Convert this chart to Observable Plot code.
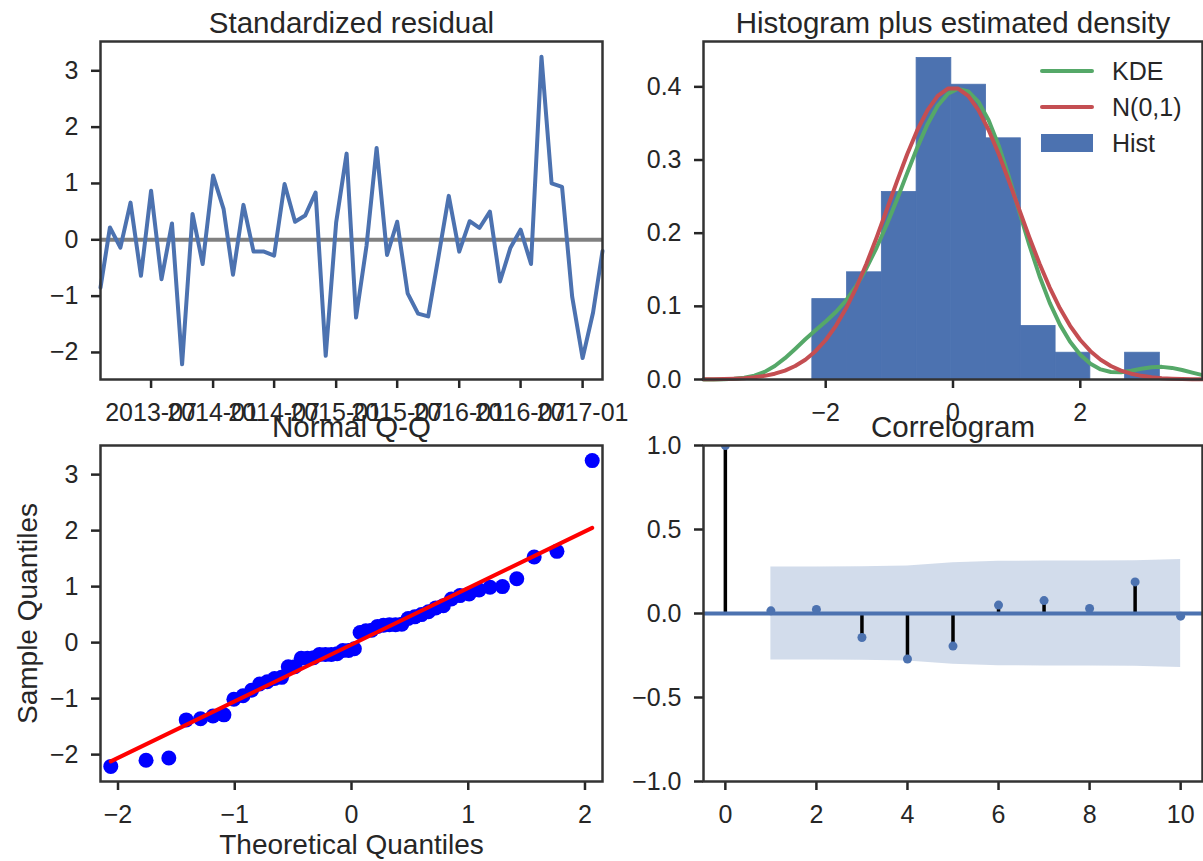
<!DOCTYPE html>
<html>
<head>
<meta charset="utf-8">
<script src="https://cdn.jsdelivr.net/npm/d3@7"></script>
<script src="https://cdn.jsdelivr.net/npm/@observablehq/plot@0.6"></script>
<style>
html, body { margin: 0; padding: 0; background: #fff; overflow: hidden; }
#root { position: relative; width: 1203px; height: 861px; background: #fff;
  font-family: "Liberation Sans", Arial, sans-serif; color: #262626; }
.panel { position: absolute; }
.panel svg { max-width: none !important; }
</style>
</head>
<body>
<div id="root"></div>
<script>
// ---------------- data ----------------
const firstMonth = "2013-02";
const lastMonth = "2017-03";
const residuals = [
  -0.85, 0.22, -0.14, 0.66, -0.64, 0.87, -0.70, 0.29, -2.21, 0.46,
  -0.43, 1.14, 0.55, -0.62, 0.62, -0.21, -0.21, -0.28, 0.99, 0.32,
  0.43, 0.84, -2.06, 0.31, 1.53, -1.38, -0.11, 1.63, -0.27, 0.32,
  -0.95, -1.31, -1.36, -0.28, 0.78, -0.21, 0.33, 0.21, 0.50, -0.74,
  -0.14, 0.18, -0.43, 3.25, 1.00, 0.94, -1.01, -2.10, -1.29, -0.20
];
const dateTicks = ["2013-07", "2014-01", "2014-07", "2015-01", "2015-07", "2016-01", "2016-07", "2017-01"];
const residTicks = [-2, -1, 0, 1, 2, 3];
const densityTicks = [0, 0.1, 0.2, 0.3, 0.4];
const histXTicks = [-2, 0, 2];
const qqXTicks = [-2, -1, 0, 1, 2];
const qqYTicks = [-2, -1, 0, 1, 2, 3];
const acfLags = [0, 1, 2, 3, 4, 5, 6, 7, 8, 9, 10];
const acfValues = [1.0, 0.016, 0.024, -0.143, -0.271, -0.194, 0.05, 0.077, 0.03, 0.188, -0.016];
const confLags = [1, 2, 3, 4, 5, 6, 7, 8, 9, 10];
const confHalfWidth = [0.277, 0.277, 0.278, 0.282, 0.302, 0.311, 0.312, 0.313, 0.314, 0.321];
const acfYTicks = [-1, -0.5, 0, 0.5, 1];
const acfXTicks = [0, 2, 4, 6, 8, 10];
const titles = ["Standardized residual", "Histogram plus estimated density", "Normal Q-Q", "Correlogram"];
const qqLabels = ["Theoretical Quantiles", "Sample Quantiles"];
const legendNames = ["KDE", "N(0,1)", "Hist"];
const colors = { blue: "#4C72B0", green: "#55A868", red: "#C44E52", qqDot: "#0000FF", qqLine: "#FF0000", zero: "#808080" };

// ---------------- helpers ----------------
const FONT = '"Liberation Sans", Arial, sans-serif';
const INK = "#262626";
const SPINE = "#333333";
const minus = (s) => s.replace("-", "\u2212");
const fmt = (p) => (d) => minus(d.toFixed(p));
const parseMonth = d3.utcParse("%Y-%m");

const erf = (x) => {
  const t = 1 / (1 + 0.3275911 * Math.abs(x));
  const y = 1 - (((((1.061405429 * t - 1.453152027) * t) + 1.421413741) * t - 0.284496736) * t + 0.254829592) * t * Math.exp(-x * x);
  return x >= 0 ? y : -y;
};
const normCdf = (x) => 0.5 * (1 + erf(x / Math.SQRT2));
const normPpf = (p) => { let lo = -8, hi = 8; for (let k = 0; k < 60; k++) { const m = (lo + hi) / 2; if (normCdf(m) < p) lo = m; else hi = m; } return (lo + hi) / 2; };
const normPdf = (x) => Math.exp(-x * x / 2) / Math.sqrt(2 * Math.PI);

const n = residuals.length;
const months = d3.utcMonth.range(parseMonth(firstMonth), d3.utcMonth.offset(parseMonth(lastMonth), 1));
const series = residuals.map((v, i) => ({ date: months[i], v }));

// histogram (10 equal bins, density)
const lo = d3.min(residuals), hi = d3.max(residuals), w = (hi - lo) / 10;
const counts = new Array(10).fill(0);
residuals.forEach(v => { counts[Math.min(9, Math.floor((v - lo) / w))]++; });
const histBins = counts.map((c, i) => ({ x1: lo + i * w, x2: lo + (i + 1) * w, density: c / (n * w) })).filter(b => b.density > 0);

// gaussian KDE (Scott) and N(0,1) evaluated on 50 points over (-3.92, 3.92)
const sd = d3.deviation(residuals);
const bw = sd * Math.pow(n, -1 / 5);
const grid = d3.range(50).map(i => -3.92 + i * 7.84 / 49);
const kde = grid.map(x => ({ x, y: d3.mean(residuals, v => normPdf((x - v) / bw)) / bw }));
const normal = grid.map(x => ({ x, y: normPdf(x) }));

// Q-Q
const sorted = residuals.slice().sort(d3.ascending);
const qq = sorted.map((s, i) => ({ t: normPpf((i + 1) / (n + 1)), s }));
const mu = d3.mean(residuals);
const qqLine = [qq[0].t, qq[n - 1].t].map(t => ({ t, s: mu + sd * t }));

// ACF
const acf = acfLags.map((lag, i) => ({ lag, v: acfValues[i] }));
const band = confLags.map((lag, i) => ({ lag, c: confHalfWidth[i] }));

// ---------------- layout ----------------
const root = document.getElementById("root");
function place(node, left, top, width, height) {
  const d = document.createElement("div");
  d.className = "panel";
  Object.assign(d.style, { left: left + "px", top: top + "px", width: width + "px", height: height + "px" });
  d.appendChild(node);
  root.appendChild(d);
}
const style = { fontFamily: FONT, fontSize: "25px", color: INK, background: "transparent", overflow: "visible", maxWidth: "none" };
const axX = (o) => Plot.axisX({ tickSize: 9, tickPadding: 15, strokeWidth: 2.5, fontSize: 25, label: null, ...o });
const axY = (o) => Plot.axisY({ tickSize: 9, tickPadding: 13, strokeWidth: 2.5, fontSize: 25, label: null, ...o });
const frame = () => Plot.frame({ stroke: SPINE, strokeWidth: 2.5 });
const title = (t) => Plot.text([t], { text: d => d, frameAnchor: "top", lineAnchor: "bottom", dy: -9, fontSize: 29.5, fill: INK });

// Top-left: standardized residual
place(Plot.plot({
  width: 620, height: 430, marginLeft: 100, marginRight: 18, marginTop: 41, marginBottom: 51,
  style,
  x: { type: "utc", domain: [months[0], months[n - 1]] },
  y: { domain: [-2.48, 3.52] },
  marks: [
    Plot.ruleY([0], { stroke: colors.zero, strokeWidth: 4 }),
    Plot.line(series, { x: "date", y: "v", stroke: colors.blue, strokeWidth: 4, strokeLinejoin: "round" }),
    axX({ ticks: dateTicks.map(parseMonth), tickFormat: d3.utcFormat("%Y-%m") }),
    axY({ ticks: residTicks, tickFormat: fmt(0) }),
    frame(),
    title(titles[0])
  ]
}), 0, 0, 620, 430);

// Top-right: histogram + densities
place(Plot.plot({
  width: 601, height: 430, marginLeft: 101, marginRight: 1, marginTop: 41, marginBottom: 51,
  style,
  x: { domain: [-3.92, 3.92] },
  y: { domain: [0, 0.462] },
  marks: [
    Plot.rectY(histBins, { x1: "x1", x2: "x2", y: "density", fill: colors.blue, stroke: colors.blue, strokeWidth: 0.8, inset: 0 }),
    Plot.line(kde, { x: "x", y: "y", stroke: colors.green, strokeWidth: 4 }),
    Plot.line(normal, { x: "x", y: "y", stroke: colors.red, strokeWidth: 4 }),
    axX({ ticks: histXTicks, tickFormat: fmt(0) }),
    axY({ ticks: densityTicks, tickFormat: fmt(1) }),
    frame(),
    title(titles[1])
  ]
}), 602, 0, 601, 430);

// Bottom-left: Q-Q
place(Plot.plot({
  width: 620, height: 441, marginLeft: 100, marginRight: 18, marginTop: 25, marginBottom: 80,
  style,
  x: { domain: [-2.15, 2.15] },
  y: { domain: [-2.48, 3.52] },
  marks: [
    Plot.dot(qq, { x: "t", y: "s", r: 7.5, fill: colors.qqDot, stroke: "none" }),
    Plot.line(qqLine, { x: "t", y: "s", stroke: colors.qqLine, strokeWidth: 4 }),
    axX({ ticks: qqXTicks, tickFormat: fmt(0) }),
    axY({ ticks: qqYTicks, tickFormat: fmt(0) }),
    frame(),
    title(titles[2]),
    Plot.text([qqLabels[0]], { text: d => d, frameAnchor: "bottom", lineAnchor: "bottom", dy: 72, fontSize: 28, fill: INK }),
    Plot.text([qqLabels[1]], { text: d => d, frameAnchor: "left", rotate: -90, lineAnchor: "middle", textAnchor: "middle", dx: -72, fontSize: 28, fill: INK })
  ]
}), 0, 420, 620, 441);

// Bottom-right: correlogram
place(Plot.plot({
  width: 601, height: 441, marginLeft: 101, marginRight: 1, marginTop: 25, marginBottom: 80,
  style,
  x: { domain: [-0.48, 10.48] },
  y: { domain: [-1, 1] },
  marks: [
    Plot.areaY(band, { x: "lag", y1: d => -d.c, y2: d => d.c, fill: colors.blue, fillOpacity: 0.25 }),
    Plot.ruleX(acf, { x: "lag", y1: 0, y2: "v", stroke: "#000", strokeWidth: 3.5 }),
    Plot.ruleY([0], { stroke: colors.blue, strokeWidth: 4 }),
    Plot.dot(acf, { x: "lag", y: "v", r: 4.5, fill: colors.blue, stroke: "none", clip: true }),
    axX({ ticks: acfXTicks, tickFormat: fmt(0) }),
    axY({ ticks: acfYTicks, tickFormat: fmt(1) }),
    frame(),
    title(titles[3])
  ]
}), 602, 420, 601, 441);

// Legend for the histogram panel
const legendColors = [colors.green, colors.red, colors.blue];
const leg = d3.create("svg").attr("width", 170).attr("height", 110)
  .style("font-family", FONT).style("font-size", "25px").style("overflow", "visible");
legendNames.forEach((name, i) => {
  const cy = 16 + i * 36;
  if (i < 2) {
    leg.append("line").attr("x1", 8).attr("x2", 58).attr("y1", cy).attr("y2", cy)
      .attr("stroke", legendColors[i]).attr("stroke-width", 4).attr("stroke-linecap", "round");
  } else {
    leg.append("rect").attr("x", 7).attr("y", cy - 9).attr("width", 52).attr("height", 18).attr("fill", legendColors[i]);
  }
  leg.append("text").attr("x", 78).attr("y", cy).attr("dy", "0.35em").attr("fill", INK).text(name);
});
place(leg.node(), 1034, 55, 170, 110);
</script>
</body>
</html>
